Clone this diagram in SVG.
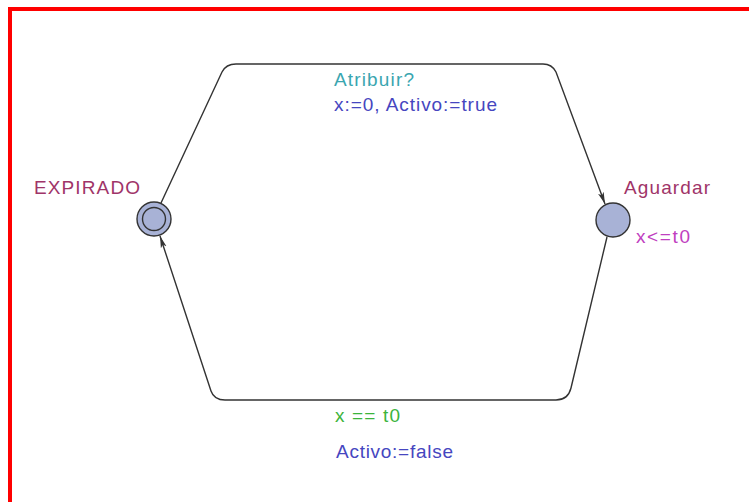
<svg xmlns="http://www.w3.org/2000/svg" width="749" height="502" viewBox="0 0 749 502">
<defs>
<style>
.edge{fill:none;stroke:#333;stroke-width:1.4}
.loc{fill:#a8b2d6;stroke:#333;stroke-width:1.4}
text{font-family:"Liberation Sans",Arial,sans-serif;font-size:19px}
.name{fill:#a03468}
.inv{fill:#c040c0}
.sync{fill:#3aa6b0}
.asg{fill:#4646c0}
.grd{fill:#3cb43c}
</style>
<marker id="arr" viewBox="0 0 12 8" refX="12" refY="4" markerWidth="12" markerHeight="8" markerUnits="userSpaceOnUse" orient="auto">
<path d="M0,1 L12,4 L0,7 L3,4 Z" fill="#333"/>
</marker>
</defs>
<rect x="0" y="0" width="749" height="502" fill="#fff"/>
<rect x="10" y="9" width="760" height="500" fill="none" stroke="#f00" stroke-width="4"/>
<g id="connectors">
<path class="edge" d="M161,203 L222,72 Q226,64 236,64 L543,64 Q552,64 556,72 L605,204" marker-end="url(#arr)"/>
<path class="edge" d="M607,237 L571,388 Q568,400 556,400 L225,400 Q214,400 211,391 L160,236" marker-end="url(#arr)"/>
</g>
<g id="EXPIRADO">
<circle class="loc" cx="154" cy="219" r="17"/>
<circle class="loc" cx="154" cy="219" r="11.5"/>
<text class="name" x="34" y="194" textLength="106">EXPIRADO</text>
</g>
<g id="Aguardar">
<circle class="loc" cx="613" cy="220" r="17"/>
<text class="name" x="624" y="194" textLength="86">Aguardar</text>
<text class="inv" x="636" y="243" textLength="54">x&lt;=t0</text>
</g>
<g id="labels">
<text class="sync" x="334" y="86" textLength="80">Atribuir?</text>
<text class="asg" x="334" y="111" textLength="163">x:=0, Activo:=true</text>
<text class="grd" x="335" y="422" textLength="65">x == t0</text>
<text class="asg" x="336" y="458" textLength="117">Activo:=false</text>
</g>
</svg>
